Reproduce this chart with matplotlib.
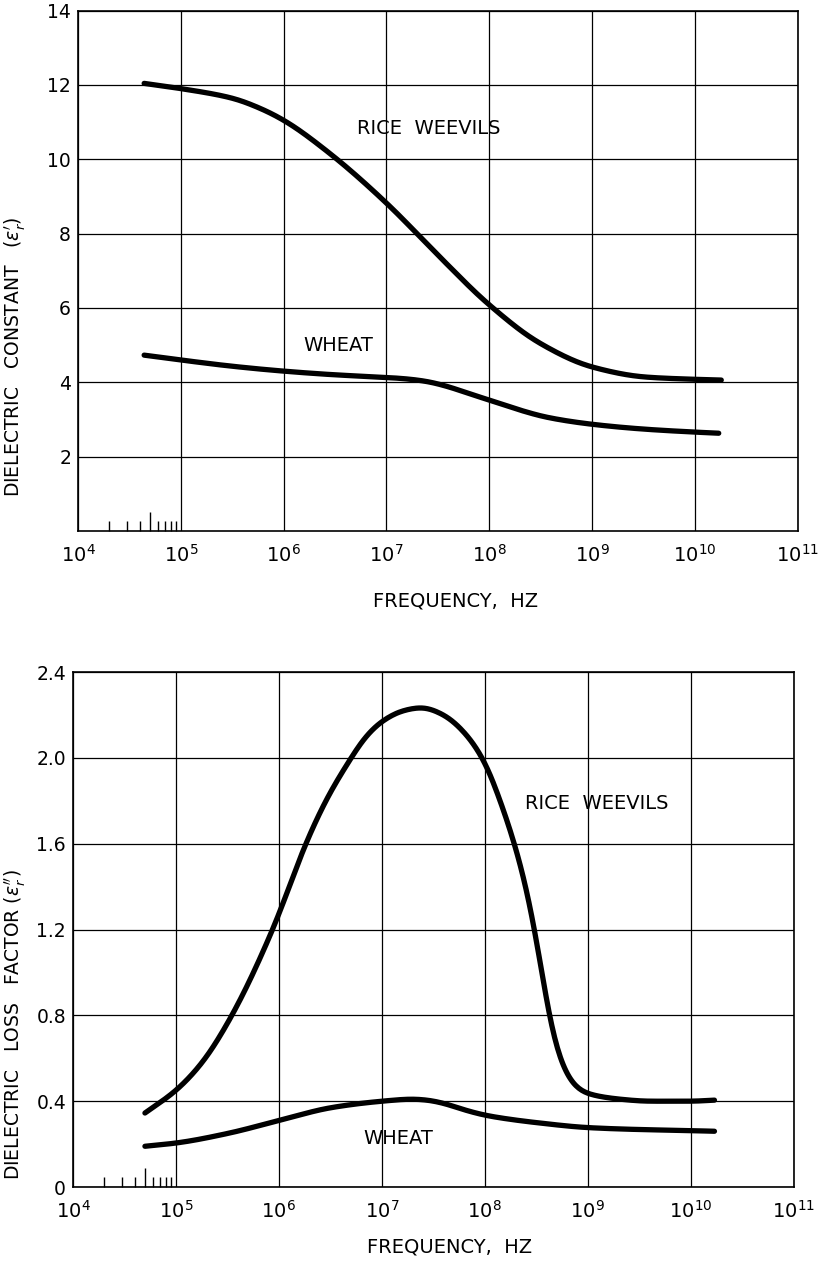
import numpy as np
import matplotlib
matplotlib.use("Agg")
import matplotlib.pyplot as plt
from matplotlib.ticker import FixedLocator, NullFormatter

# frequency (Hz) and values
freq_const_rice = [4.4e4, 1e5, 3.2e5, 5.9e5, 1e6, 2.8e6, 1e7, 3.3e7, 1e8, 3.1e8, 1e9, 3.3e9, 1e10, 1.8e10]
const_rice = [12.04, 11.9, 11.64, 11.37, 11.05, 10.16, 8.82, 7.37, 6.08, 5.05, 4.41, 4.14, 4.08, 4.06]

freq_const_wheat = [4.4e4, 1e5, 3.2e5, 1e6, 3.2e6, 1e7, 1.6e7, 2.5e7, 4e7, 6.3e7, 1e8, 2e8,
                    3.6e8, 1e9, 3.2e9, 1e10, 1.7e10]
const_wheat = [4.73, 4.6, 4.43, 4.3, 4.2, 4.13, 4.09, 4.02, 3.88, 3.70, 3.52, 3.25,
               3.06, 2.87, 2.74, 2.66, 2.63]

freq_loss_rice = [5e4, 1e5, 1.8e5, 3.5e5, 8.7e5, 1.9e6, 3e6, 4.6e6, 7e6, 1e7, 1.6e7,
                  2.45e7, 4e7, 6.3e7, 1e8, 1.41e8, 2e8, 2.51e8, 3.16e8, 3.72e8, 4.27e8,
                  5e8, 6.3e8, 7.9e8, 1e9, 2e9, 4e9, 1e10, 1.7e10]
loss_rice = [0.345, 0.45, 0.58, 0.80, 1.20, 1.62, 1.82, 1.97, 2.10, 2.17, 2.22,
             2.235, 2.20, 2.12, 1.98, 1.80, 1.58, 1.40, 1.16, 0.95, 0.78,
             0.64, 0.52, 0.46, 0.435, 0.41, 0.40, 0.40, 0.405]

freq_loss_wheat = [5e4, 1e5, 3.2e5, 1e6, 3.2e6, 1e7, 2e7, 2.8e7, 4e7, 6.3e7, 1e8, 1.8e8,
                   3.2e8, 1e9, 3.2e9, 1e10, 1.7e10]
loss_wheat = [0.19, 0.205, 0.25, 0.31, 0.37, 0.40, 0.41, 0.405, 0.39, 0.36, 0.335, 0.315,
              0.30, 0.277, 0.268, 0.263, 0.26]

decades = [1e4, 1e5, 1e6, 1e7, 1e8, 1e9, 1e10, 1e11]
decade_labels = [r"$10^{%d}$" % k for k in range(4, 12)]
minor_freqs = [2e4, 3e4, 4e4, 5e4, 6e4, 7e4, 8e4, 9e4]

const_ticks = [2, 4, 6, 8, 10, 12, 14]
loss_ticks = [0, 0.4, 0.8, 1.2, 1.6, 2.0, 2.4]
loss_tick_labels = ["0", "0.4", "0.8", "1.2", "1.6", "2.0", "2.4"]

plt.rcParams["font.family"] = "DejaVu Sans"
plt.rcParams["mathtext.fontset"] = "dejavusans"


def smooth(xs, ys, n=400):
    # monotone cubic through the read points in log-frequency,
    # then a light gaussian blur so the drawn pen line has no corners
    lx = np.log10(xs)
    ys = np.asarray(ys, dtype=float)
    h = np.diff(lx)
    d = np.diff(ys) / h
    m = np.zeros_like(ys)
    m[0], m[-1] = d[0], d[-1]
    for i in range(1, len(ys) - 1):
        if d[i - 1] * d[i] > 0:
            w1 = 2 * h[i] + h[i - 1]
            w2 = h[i] + 2 * h[i - 1]
            m[i] = (w1 + w2) / (w1 / d[i - 1] + w2 / d[i])
    t_all = np.linspace(lx[0], lx[-1], n)
    out = np.empty_like(t_all)
    for j, t in enumerate(t_all):
        i = min(np.searchsorted(lx, t, side="right") - 1, len(lx) - 2)
        s = (t - lx[i]) / h[i]
        h00 = 2 * s**3 - 3 * s**2 + 1
        h10 = s**3 - 2 * s**2 + s
        h01 = -2 * s**3 + 3 * s**2
        h11 = s**3 - s**2
        out[j] = h00 * ys[i] + h10 * h[i] * m[i] + h01 * ys[i + 1] + h11 * h[i] * m[i + 1]

    step = t_all[1] - t_all[0]
    sigma = 0.06 / step
    k = np.arange(-int(4 * sigma), int(4 * sigma) + 1)
    kern = np.exp(-0.5 * (k / sigma) ** 2)
    kern /= kern.sum()
    pad = len(k) // 2
    # odd reflection about the end points keeps the ends in place
    left = 2 * out[0] - out[1:pad + 1][::-1]
    right = 2 * out[-1] - out[-pad - 1:-1][::-1]
    blurred = np.convolve(np.concatenate([left, out, right]), kern, mode="valid")
    return 10 ** t_all, blurred


def style_axes(ax, yticks, ylabels, ylim):
    ax.set_xscale("log")
    ax.set_xlim(1e4, 1e11)
    ax.set_ylim(*ylim)
    ax.set_xticks(decades)
    ax.set_xticklabels(decade_labels, fontsize=14)
    ax.xaxis.set_minor_locator(FixedLocator(minor_freqs))
    ax.xaxis.set_minor_formatter(NullFormatter())
    ax.set_yticks(yticks)
    ax.set_yticklabels(ylabels, fontsize=13.5)
    ax.tick_params(axis="x", which="major", length=0, pad=9)
    ax.tick_params(axis="y", which="major", length=0, pad=5)
    ax.tick_params(axis="x", which="minor", direction="in", length=7,
                   width=1.0, color="black", top=False)
    ax.xaxis.get_minor_ticks()[3].tick1line.set_markersize(14)
    ax.grid(True, which="major", color="black", linewidth=0.9)
    for sp in ax.spines.values():
        sp.set_linewidth(1.2)
        sp.set_color("black")


fig = plt.figure(figsize=(8.19, 12.67), dpi=100)

ax1 = fig.add_axes([0.0952, 0.5809, 0.879, 0.4108])
style_axes(ax1, const_ticks, [str(v) for v in const_ticks], (0, 14))
for fx, fy in [(freq_const_rice, const_rice), (freq_const_wheat, const_wheat)]:
    sx, sy = smooth(fx, fy)
    ax1.plot(sx, sy, color="black", linewidth=3.8, solid_capstyle="round", zorder=3)
ax1.text(2.6e7, 10.83, "RICE  WEEVILS", fontsize=14, ha="center", va="center")
ax1.text(3.4e6, 5.0, "WHEAT", fontsize=14, ha="center", va="center")
ax1.set_xlabel("FREQUENCY,  HZ", fontsize=14)
ax1.xaxis.set_label_coords(0.524, -0.117)
ax1.set_ylabel(r"DIELECTRIC   CONSTANT   ($\epsilon_r^{\prime}$)", fontsize=13.5)
ax1.yaxis.set_label_coords(-0.07, 0.334)

ax2 = fig.add_axes([0.0891, 0.0631, 0.880, 0.4065])
style_axes(ax2, loss_ticks, loss_tick_labels, (0, 2.4))
for fx, fy in [(freq_loss_rice, loss_rice), (freq_loss_wheat, loss_wheat)]:
    sx, sy = smooth(fx, fy)
    ax2.plot(sx, sy, color="black", linewidth=3.8, solid_capstyle="round", zorder=3)
ax2.text(2.45e8, 1.785, "RICE  WEEVILS", fontsize=14, ha="left", va="center")
ax2.text(6.6e6, 0.228, "WHEAT", fontsize=14, ha="left", va="center")
ax2.set_xlabel("FREQUENCY,  HZ", fontsize=14)
ax2.xaxis.set_label_coords(0.522, -0.098)
ax2.set_ylabel(r"DIELECTRIC   LOSS   FACTOR ($\epsilon_r^{\prime\prime}$)", fontsize=13.5)
ax2.yaxis.set_label_coords(-0.062, 0.315)

fig.savefig("out.png", dpi=100)
